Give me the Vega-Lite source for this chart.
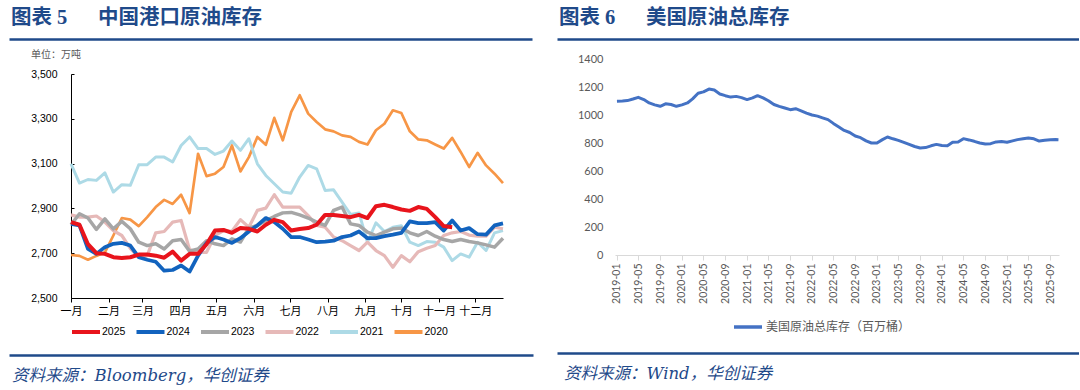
{
"$schema":"https://vega.github.io/schema/vega-lite/v6.json",
"padding":{"left":8,"top":7,"right":0,"bottom":0},
"background":"#ffffff",
"config":{"view":{"stroke":null},"axis":{"grid":false}},
"datasets":{
"port":[
{"year":"2020","week":0,"value":2692},{"year":"2020","week":1,"value":2688},{"year":"2020","week":2,"value":2671},{"year":"2020","week":3,"value":2688},{"year":"2020","week":4,"value":2704},{"year":"2020","week":5,"value":2779},{"year":"2020","week":6,"value":2857},{"year":"2020","week":7,"value":2850},{"year":"2020","week":8,"value":2821},{"year":"2020","week":9,"value":2861},{"year":"2020","week":10,"value":2906},{"year":"2020","week":11,"value":2938},{"year":"2020","week":12,"value":2920},{"year":"2020","week":13,"value":2961},{"year":"2020","week":14,"value":2879},{"year":"2020","week":15,"value":3144},{"year":"2020","week":16,"value":3044},{"year":"2020","week":17,"value":3055},{"year":"2020","week":18,"value":3085},{"year":"2020","week":19,"value":3181},{"year":"2020","week":20,"value":3065},{"year":"2020","week":21,"value":3129},{"year":"2020","week":22,"value":3219},{"year":"2020","week":23,"value":3184},{"year":"2020","week":24,"value":3304},{"year":"2020","week":25,"value":3204},{"year":"2020","week":26,"value":3331},{"year":"2020","week":27,"value":3405},{"year":"2020","week":28,"value":3323},{"year":"2020","week":29,"value":3286},{"year":"2020","week":30,"value":3253},{"year":"2020","week":31,"value":3244},{"year":"2020","week":32,"value":3226},{"year":"2020","week":33,"value":3219},{"year":"2020","week":34,"value":3197},{"year":"2020","week":35,"value":3185},{"year":"2020","week":36,"value":3249},{"year":"2020","week":37,"value":3278},{"year":"2020","week":38,"value":3338},{"year":"2020","week":39,"value":3326},{"year":"2020","week":40,"value":3244},{"year":"2020","week":41,"value":3208},{"year":"2020","week":42,"value":3204},{"year":"2020","week":43,"value":3185},{"year":"2020","week":44,"value":3167},{"year":"2020","week":45,"value":3215},{"year":"2020","week":46,"value":3152},{"year":"2020","week":47,"value":3085},{"year":"2020","week":48,"value":3148},{"year":"2020","week":49,"value":3092},{"year":"2020","week":50,"value":3055},{"year":"2020","week":51,"value":3013},
{"year":"2021","week":0,"value":3099},{"year":"2021","week":1,"value":3013},{"year":"2021","week":2,"value":3029},{"year":"2021","week":3,"value":3025},{"year":"2021","week":4,"value":3059},{"year":"2021","week":5,"value":2973},{"year":"2021","week":6,"value":3006},{"year":"2021","week":7,"value":3003},{"year":"2021","week":8,"value":3095},{"year":"2021","week":9,"value":3095},{"year":"2021","week":10,"value":3129},{"year":"2021","week":11,"value":3129},{"year":"2021","week":12,"value":3107},{"year":"2021","week":13,"value":3181},{"year":"2021","week":14,"value":3219},{"year":"2021","week":15,"value":3167},{"year":"2021","week":16,"value":3167},{"year":"2021","week":17,"value":3141},{"year":"2021","week":18,"value":3156},{"year":"2021","week":19,"value":3201},{"year":"2021","week":20,"value":3159},{"year":"2021","week":21,"value":3211},{"year":"2021","week":22,"value":3099},{"year":"2021","week":23,"value":3047},{"year":"2021","week":24,"value":3010},{"year":"2021","week":25,"value":2973},{"year":"2021","week":26,"value":2968},{"year":"2021","week":27,"value":3040},{"year":"2021","week":28,"value":3092},{"year":"2021","week":29,"value":3077},{"year":"2021","week":30,"value":2980},{"year":"2021","week":31,"value":2983},{"year":"2021","week":32,"value":2928},{"year":"2021","week":33,"value":2873},{"year":"2021","week":34,"value":2880},{"year":"2021","week":35,"value":2749},{"year":"2021","week":36,"value":2836},{"year":"2021","week":37,"value":2797},{"year":"2021","week":38,"value":2816},{"year":"2021","week":39,"value":2823},{"year":"2021","week":40,"value":2749},{"year":"2021","week":41,"value":2734},{"year":"2021","week":42,"value":2752},{"year":"2021","week":43,"value":2749},{"year":"2021","week":44,"value":2727},{"year":"2021","week":45,"value":2667},{"year":"2021","week":46,"value":2697},{"year":"2021","week":47,"value":2682},{"year":"2021","week":48,"value":2749},{"year":"2021","week":49,"value":2712},{"year":"2021","week":50,"value":2791},{"year":"2021","week":51,"value":2801},
{"year":"2022","week":0,"value":2871},{"year":"2022","week":1,"value":2861},{"year":"2022","week":2,"value":2861},{"year":"2022","week":3,"value":2866},{"year":"2022","week":4,"value":2839},{"year":"2022","week":5,"value":2801},{"year":"2022","week":6,"value":2779},{"year":"2022","week":7,"value":2722},{"year":"2022","week":8,"value":2682},{"year":"2022","week":9,"value":2689},{"year":"2022","week":10,"value":2791},{"year":"2022","week":11,"value":2797},{"year":"2022","week":12,"value":2839},{"year":"2022","week":13,"value":2846},{"year":"2022","week":14,"value":2716},{"year":"2022","week":15,"value":2704},{"year":"2022","week":16,"value":2704},{"year":"2022","week":17,"value":2779},{"year":"2022","week":18,"value":2801},{"year":"2022","week":19,"value":2798},{"year":"2022","week":20,"value":2850},{"year":"2022","week":21,"value":2816},{"year":"2022","week":22,"value":2891},{"year":"2022","week":23,"value":2901},{"year":"2022","week":24,"value":2961},{"year":"2022","week":25,"value":2906},{"year":"2022","week":26,"value":2906},{"year":"2022","week":27,"value":2906},{"year":"2022","week":28,"value":2868},{"year":"2022","week":29,"value":2824},{"year":"2022","week":30,"value":2816},{"year":"2022","week":31,"value":2772},{"year":"2022","week":32,"value":2756},{"year":"2022","week":33,"value":2734},{"year":"2022","week":34,"value":2712},{"year":"2022","week":35,"value":2749},{"year":"2022","week":36,"value":2712},{"year":"2022","week":37,"value":2689},{"year":"2022","week":38,"value":2637},{"year":"2022","week":39,"value":2689},{"year":"2022","week":40,"value":2662},{"year":"2022","week":41,"value":2707},{"year":"2022","week":42,"value":2722},{"year":"2022","week":43,"value":2734},{"year":"2022","week":44,"value":2779},{"year":"2022","week":45,"value":2791},{"year":"2022","week":46,"value":2797},{"year":"2022","week":47,"value":2781},{"year":"2022","week":48,"value":2776},{"year":"2022","week":49,"value":2776},{"year":"2022","week":50,"value":2816},{"year":"2022","week":51,"value":2809},
{"year":"2023","week":0,"value":2827},{"year":"2023","week":1,"value":2876},{"year":"2023","week":2,"value":2857},{"year":"2023","week":3,"value":2806},{"year":"2023","week":4,"value":2853},{"year":"2023","week":5,"value":2809},{"year":"2023","week":6,"value":2842},{"year":"2023","week":7,"value":2809},{"year":"2023","week":8,"value":2749},{"year":"2023","week":9,"value":2734},{"year":"2023","week":10,"value":2742},{"year":"2023","week":11,"value":2719},{"year":"2023","week":12,"value":2756},{"year":"2023","week":13,"value":2761},{"year":"2023","week":14,"value":2709},{"year":"2023","week":15,"value":2719},{"year":"2023","week":16,"value":2756},{"year":"2023","week":17,"value":2742},{"year":"2023","week":18,"value":2734},{"year":"2023","week":19,"value":2764},{"year":"2023","week":20,"value":2750},{"year":"2023","week":21,"value":2812},{"year":"2023","week":22,"value":2824},{"year":"2023","week":23,"value":2846},{"year":"2023","week":24,"value":2864},{"year":"2023","week":25,"value":2880},{"year":"2023","week":26,"value":2882},{"year":"2023","week":27,"value":2871},{"year":"2023","week":28,"value":2857},{"year":"2023","week":29,"value":2839},{"year":"2023","week":30,"value":2824},{"year":"2023","week":31,"value":2891},{"year":"2023","week":32,"value":2906},{"year":"2023","week":33,"value":2831},{"year":"2023","week":34,"value":2824},{"year":"2023","week":35,"value":2794},{"year":"2023","week":36,"value":2779},{"year":"2023","week":37,"value":2794},{"year":"2023","week":38,"value":2809},{"year":"2023","week":39,"value":2812},{"year":"2023","week":40,"value":2791},{"year":"2023","week":41,"value":2779},{"year":"2023","week":42,"value":2797},{"year":"2023","week":43,"value":2776},{"year":"2023","week":44,"value":2761},{"year":"2023","week":45,"value":2752},{"year":"2023","week":46,"value":2761},{"year":"2023","week":47,"value":2752},{"year":"2023","week":48,"value":2746},{"year":"2023","week":49,"value":2737},{"year":"2023","week":50,"value":2727},{"year":"2023","week":51,"value":2767},
{"year":"2024","week":0,"value":2831},{"year":"2024","week":1,"value":2824},{"year":"2024","week":2,"value":2719},{"year":"2024","week":3,"value":2697},{"year":"2024","week":4,"value":2727},{"year":"2024","week":5,"value":2742},{"year":"2024","week":6,"value":2746},{"year":"2024","week":7,"value":2734},{"year":"2024","week":8,"value":2682},{"year":"2024","week":9,"value":2671},{"year":"2024","week":10,"value":2662},{"year":"2024","week":11,"value":2622},{"year":"2024","week":12,"value":2625},{"year":"2024","week":13,"value":2645},{"year":"2024","week":14,"value":2618},{"year":"2024","week":15,"value":2689},{"year":"2024","week":16,"value":2745},{"year":"2024","week":17,"value":2772},{"year":"2024","week":18,"value":2761},{"year":"2024","week":19,"value":2746},{"year":"2024","week":20,"value":2767},{"year":"2024","week":21,"value":2797},{"year":"2024","week":22,"value":2824},{"year":"2024","week":23,"value":2857},{"year":"2024","week":24,"value":2839},{"year":"2024","week":25,"value":2809},{"year":"2024","week":26,"value":2772},{"year":"2024","week":27,"value":2772},{"year":"2024","week":28,"value":2761},{"year":"2024","week":29,"value":2749},{"year":"2024","week":30,"value":2752},{"year":"2024","week":31,"value":2756},{"year":"2024","week":32,"value":2772},{"year":"2024","week":33,"value":2779},{"year":"2024","week":34,"value":2797},{"year":"2024","week":35,"value":2767},{"year":"2024","week":36,"value":2767},{"year":"2024","week":37,"value":2776},{"year":"2024","week":38,"value":2783},{"year":"2024","week":39,"value":2791},{"year":"2024","week":40,"value":2842},{"year":"2024","week":41,"value":2834},{"year":"2024","week":42,"value":2834},{"year":"2024","week":43,"value":2839},{"year":"2024","week":44,"value":2801},{"year":"2024","week":45,"value":2846},{"year":"2024","week":46,"value":2801},{"year":"2024","week":47,"value":2812},{"year":"2024","week":48,"value":2785},{"year":"2024","week":49,"value":2783},{"year":"2024","week":50,"value":2824},{"year":"2024","week":51,"value":2833},
{"year":"2025","week":0,"value":2839},{"year":"2025","week":1,"value":2827},{"year":"2025","week":2,"value":2740},{"year":"2025","week":3,"value":2700},{"year":"2025","week":4,"value":2697},{"year":"2025","week":5,"value":2682},{"year":"2025","week":6,"value":2679},{"year":"2025","week":7,"value":2682},{"year":"2025","week":8,"value":2694},{"year":"2025","week":9,"value":2694},{"year":"2025","week":10,"value":2689},{"year":"2025","week":11,"value":2680},{"year":"2025","week":12,"value":2707},{"year":"2025","week":13,"value":2667},{"year":"2025","week":14,"value":2697},{"year":"2025","week":15,"value":2697},{"year":"2025","week":16,"value":2740},{"year":"2025","week":17,"value":2801},{"year":"2025","week":18,"value":2804},{"year":"2025","week":19,"value":2791},{"year":"2025","week":20,"value":2812},{"year":"2025","week":21,"value":2809},{"year":"2025","week":22,"value":2797},{"year":"2025","week":23,"value":2827},{"year":"2025","week":24,"value":2849},{"year":"2025","week":25,"value":2839},{"year":"2025","week":26,"value":2801},{"year":"2025","week":27,"value":2808},{"year":"2025","week":28,"value":2812},{"year":"2025","week":29,"value":2827},{"year":"2025","week":30,"value":2871},{"year":"2025","week":31,"value":2871},{"year":"2025","week":32,"value":2866},{"year":"2025","week":33,"value":2861},{"year":"2025","week":34,"value":2871},{"year":"2025","week":35,"value":2857},{"year":"2025","week":36,"value":2910},{"year":"2025","week":37,"value":2916},{"year":"2025","week":38,"value":2906},{"year":"2025","week":39,"value":2895},{"year":"2025","week":40,"value":2889},{"year":"2025","week":41,"value":2906},{"year":"2025","week":42,"value":2898},{"year":"2025","week":43,"value":2861},{"year":"2025","week":44,"value":2821},{"year":"2025","week":45,"value":2816}
],
"us":[
{"date":"2019-01-01","stock":1098},{"date":"2019-02-01","stock":1100},{"date":"2019-03-01","stock":1103},{"date":"2019-04-01","stock":1114},{"date":"2019-05-01","stock":1126},{"date":"2019-06-01","stock":1110},{"date":"2019-07-01","stock":1086},{"date":"2019-08-01","stock":1072},{"date":"2019-09-01","stock":1062},{"date":"2019-10-01","stock":1080},{"date":"2019-11-01","stock":1075},{"date":"2019-12-01","stock":1062},
{"date":"2020-01-01","stock":1072},{"date":"2020-02-01","stock":1086},{"date":"2020-03-01","stock":1115},{"date":"2020-04-01","stock":1155},{"date":"2020-05-01","stock":1165},{"date":"2020-06-01","stock":1185},{"date":"2020-07-01","stock":1178},{"date":"2020-08-01","stock":1150},{"date":"2020-09-01","stock":1138},{"date":"2020-10-01","stock":1128},{"date":"2020-11-01","stock":1133},{"date":"2020-12-01","stock":1124},
{"date":"2021-01-01","stock":1110},{"date":"2021-02-01","stock":1122},{"date":"2021-03-01","stock":1138},{"date":"2021-04-01","stock":1122},{"date":"2021-05-01","stock":1102},{"date":"2021-06-01","stock":1075},{"date":"2021-07-01","stock":1062},{"date":"2021-08-01","stock":1050},{"date":"2021-09-01","stock":1038},{"date":"2021-10-01","stock":1045},{"date":"2021-11-01","stock":1030},{"date":"2021-12-01","stock":1014},
{"date":"2022-01-01","stock":1000},{"date":"2022-02-01","stock":992},{"date":"2022-03-01","stock":980},{"date":"2022-04-01","stock":967},{"date":"2022-05-01","stock":940},{"date":"2022-06-01","stock":915},{"date":"2022-07-01","stock":890},{"date":"2022-08-01","stock":875},{"date":"2022-09-01","stock":850},{"date":"2022-10-01","stock":838},{"date":"2022-11-01","stock":815},{"date":"2022-12-01","stock":800},
{"date":"2023-01-01","stock":800},{"date":"2023-02-01","stock":824},{"date":"2023-03-01","stock":843},{"date":"2023-04-01","stock":830},{"date":"2023-05-01","stock":819},{"date":"2023-06-01","stock":805},{"date":"2023-07-01","stock":790},{"date":"2023-08-01","stock":775},{"date":"2023-09-01","stock":764},{"date":"2023-10-01","stock":767},{"date":"2023-11-01","stock":780},{"date":"2023-12-01","stock":790},
{"date":"2024-01-01","stock":782},{"date":"2024-02-01","stock":781},{"date":"2024-03-01","stock":805},{"date":"2024-04-01","stock":807},{"date":"2024-05-01","stock":831},{"date":"2024-06-01","stock":822},{"date":"2024-07-01","stock":812},{"date":"2024-08-01","stock":800},{"date":"2024-09-01","stock":793},{"date":"2024-10-01","stock":795},{"date":"2024-11-01","stock":808},{"date":"2024-12-01","stock":810},
{"date":"2025-01-01","stock":805},{"date":"2025-02-01","stock":815},{"date":"2025-03-01","stock":824},{"date":"2025-04-01","stock":830},{"date":"2025-05-01","stock":836},{"date":"2025-06-01","stock":830},{"date":"2025-07-01","stock":814},{"date":"2025-08-01","stock":820},{"date":"2025-09-01","stock":824},{"date":"2025-10-01","stock":825},{"date":"2025-10-17","stock":824}
]
},
"spacing":23,
"resolve":{"scale":{"x":"independent","y":"independent","color":"independent"}},
"hconcat":[
{
"spacing":11,
"resolve":{"scale":{"x":"independent","y":"independent","color":"independent"}},
"vconcat":[
{"width":523,"height":1,"data":{"values":[{}]},
"title":{"text":"图表 5 　 中国港口原油库存","anchor":"start","font":"Liberation Serif, Noto Sans CJK SC","fontSize":20.5,"fontWeight":"bold","color":"#1F4A8A","offset":10,"dx":2},
"mark":{"type":"rule","opacity":0},
"encoding":{"x":{"datum":0,"type":"quantitative","scale":{"domain":[0,1]},"axis":{"orient":"bottom","domainColor":"#1F4A8A","domainWidth":2.5,"ticks":false,"labels":false,"title":null}}}},
{"spacing":0,
"resolve":{"scale":{"x":"independent","y":"independent","color":"independent"}},
"hconcat":[
{"width":1,"height":1,"data":{"values":[{}]},"mark":{"type":"rule","opacity":0},"encoding":{}},
{"width":432,"height":224,"data":{"name":"port"},
"title":{"text":"单位：万吨","anchor":"start","frame":"group","dx":-40,"font":"Noto Sans CJK SC","fontSize":10,"fontWeight":"normal","color":"#595959","offset":9},
"mark":{"type":"line","strokeJoin":"round"},
"encoding":{
"x":{"field":"week","type":"quantitative","scale":{"domain":[0,51],"nice":false,"zero":false},"axis":{"values":[0,4.43,8.43,12.86,17.14,21.57,25.86,30.29,34.71,39,43.43,47.71],"labelExpr":"['一月','二月','三月','四月','五月','六月','七月','八月','九月','十月','十一月','十二月'][round(datum.value*7/30.4)]","title":null,"domainColor":"#000000","tickColor":"#000000","tickSize":4,"labelFont":"Noto Sans CJK SC","labelFontSize":11,"labelColor":"#000000","labelPadding":3,"labelFlush":false,"labelOverlap":false}},
"y":{"field":"value","type":"quantitative","scale":{"domain":[2500,3500],"nice":false,"zero":false},"axis":{"values":[2500,2700,2900,3100,3300,3500],"format":",d","title":null,"domainColor":"#000000","tickColor":"#000000","tickSize":-3,"labelFont":"Liberation Sans","labelFontSize":10.5,"labelColor":"#000000","labelPadding":17,"minExtent":61}},
"color":{"field":"year","type":"nominal","scale":{"domain":["2025","2024","2023","2022","2021","2020"],"range":["#E8141C","#1263BE","#A6A6A6","#E6B9B8","#ADDAE6","#F79646"]},
"legend":{"orient":"none","legendX":-5,"legendY":238,"direction":"horizontal","title":null,"symbolType":"stroke","symbolSize":784,"symbolStrokeWidth":4,"labelFont":"Liberation Sans","labelFontSize":10.5,"labelColor":"#000000","labelOffset":0,"columnPadding":2.5,"padding":4}},
"strokeWidth":{"field":"year","type":"nominal","scale":{"domain":["2025","2024","2023","2022","2021","2020"],"range":[4,2.7,2.7,2.7,2.7,2.7]},"legend":null}
}}
]},
{"width":524,"height":1,"data":{"values":[{}]},
"title":{"text":"资料来源：Bloomberg，华创证券","orient":"bottom","anchor":"start","font":"DejaVu Serif, Noto Sans CJK SC","fontStyle":"italic","fontWeight":"normal","fontSize":16.5,"color":"#1F4A8A","offset":12,"dx":3},
"mark":{"type":"rule","opacity":0},
"encoding":{"x":{"datum":0,"type":"quantitative","scale":{"domain":[0,1]},"axis":{"orient":"top","domainColor":"#1F4A8A","domainWidth":2.5,"ticks":false,"labels":false,"title":null}}}}
]
},
{
"spacing":14,
"resolve":{"scale":{"x":"independent","y":"independent","color":"independent"}},
"vconcat":[
{"width":522,"height":1,"data":{"values":[{}]},
"title":{"text":"图表 6 　 美国原油总库存","anchor":"start","font":"Liberation Serif, Noto Sans CJK SC","fontSize":20.5,"fontWeight":"bold","color":"#1F4A8A","offset":10,"dx":2},
"mark":{"type":"rule","opacity":0},
"encoding":{"x":{"datum":0,"type":"quantitative","scale":{"domain":[0,1]},"axis":{"orient":"bottom","domainColor":"#1F4A8A","domainWidth":2.5,"ticks":false,"labels":false,"title":null}}}},
{"spacing":0,
"resolve":{"scale":{"x":"independent","y":"independent","color":"independent"}},
"hconcat":[
{"width":1,"height":1,"data":{"values":[{}]},"mark":{"type":"rule","opacity":0},"encoding":{}},
{"width":444,"height":196,"data":{"name":"us"},
"mark":{"type":"line","strokeWidth":3,"strokeJoin":"round"},
"encoding":{
"x":{"field":"date","type":"temporal","scale":{"type":"utc","domain":[{"year":2018,"month":12,"date":21,"utc":true},{"year":2025,"month":10,"date":20,"utc":true}]},"axis":{"tickCount":{"interval":"month","step":4},"format":"%Y-%m","labelAngle":-90,"title":null,"domainColor":"#D9D9D9","tickColor":"#D9D9D9","tickSize":5,"labelFont":"Lato","labelFontSize":10.5,"labelColor":"#595959","labelPadding":3,"labelFlush":false,"labelOverlap":false}},
"y":{"field":"stock","type":"quantitative","scale":{"domain":[0,1400],"nice":false},"axis":{"values":[0,200,400,600,800,1000,1200,1400],"format":"d","title":null,"domain":false,"ticks":false,"labelFont":"Lato","labelFontSize":11,"labelColor":"#595959","labelPadding":12,"minExtent":57}},
"color":{"datum":"美国原油总库存（百万桶）","type":"nominal","scale":{"range":["#4472C4"]},
"legend":{"orient":"none","legendX":112,"legendY":247,"direction":"horizontal","title":null,"symbolType":"stroke","symbolSize":784,"symbolStrokeWidth":3.5,"labelFont":"Noto Sans CJK SC","labelFontSize":12,"labelColor":"#595959","labelOffset":2,"padding":5}}
}}
]},
{"width":522,"height":1,"data":{"values":[{}]},
"title":{"text":"资料来源：Wind，华创证券","orient":"bottom","anchor":"start","font":"DejaVu Serif, Noto Sans CJK SC","fontStyle":"italic","fontWeight":"normal","fontSize":16.5,"color":"#1F4A8A","offset":12,"dx":7},
"mark":{"type":"rule","opacity":0},
"encoding":{"x":{"datum":0,"type":"quantitative","scale":{"domain":[0,1]},"axis":{"orient":"top","domainColor":"#1F4A8A","domainWidth":2.5,"ticks":false,"labels":false,"title":null}}}}
]
}
]
}
